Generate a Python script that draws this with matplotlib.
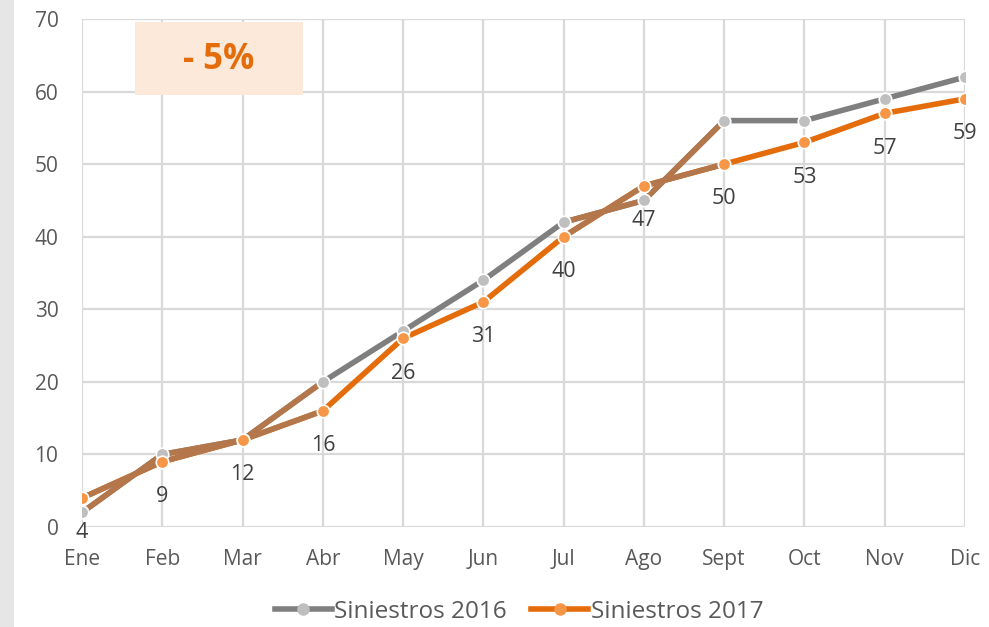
import matplotlib.pyplot as plt
from matplotlib.patches import Rectangle
from matplotlib.lines import Line2D

# data
months = ['Ene', 'Feb', 'Mar', 'Abr', 'May', 'Jun', 'Jul', 'Ago', 'Sept', 'Oct', 'Nov', 'Dic']
s2016 = [2, 10, 12, 20, 27, 34, 42, 45, 56, 56, 59, 62]
s2017 = [4, 9, 12, 16, 26, 31, 40, 47, 50, 53, 57, 59]
# segments (i -> i+1) that show up brownish where the two lines overlap
brown_segs = [0, 1, 2, 6, 7]

plt.rcParams['font.family'] = ['Open Sans', 'DejaVu Sans']

gray_line = '#7f7f7f'
gray_mark = '#bfbfbf'
orange_line = '#e46c0a'
orange_mark = '#f79646'
brown = '#b3774b'

fig = plt.figure(figsize=(9.89, 6.27), dpi=100)
fig.patches.append(Rectangle((0, 0), 14 / 989, 1, transform=fig.transFigure,
                             facecolor='#e6e6e6', edgecolor='none'))
ax = fig.add_axes([82 / 989, 1 - 527 / 627, (965 - 82) / 989, (527 - 19) / 627])

x = list(range(len(months)))
lw = 4
ax.plot(x, s2016, color=gray_line, lw=lw, zorder=3, solid_capstyle='butt')
ax.plot(x, s2017, color=orange_line, lw=lw, zorder=4, solid_capstyle='butt')
for i in brown_segs:
    ax.plot(x[i:i + 2], s2016[i:i + 2], color=brown, lw=lw, zorder=4.5, solid_capstyle='butt')
    ax.plot(x[i:i + 2], s2017[i:i + 2], color=brown, lw=lw, zorder=4.5, solid_capstyle='butt')
ax.plot(x, s2016, ls='none', marker='o', ms=9, mfc=gray_mark, mec='white', mew=1.2, zorder=5)
ax.plot(x, s2017, ls='none', marker='o', ms=9, mfc=orange_mark, mec='white', mew=1.2, zorder=6)

for xi, v in zip(x, s2017):
    ax.annotate(str(v), (xi, v), xytext=(0, -25), textcoords='offset points',
                ha='center', va='center', fontsize=15.5, color='#404040', zorder=7)

ax.set_xlim(0, 11)
ax.set_ylim(0, 70)
ax.set_yticks(range(0, 71, 10))
ax.set_xticks(x)
ax.set_xticklabels(months)
ax.tick_params(length=0, labelsize=15, labelcolor='#595959')
ax.tick_params(axis='x', pad=16)
ax.tick_params(axis='y', pad=17)
ax.grid(True, color='#d9d9d9', lw=1.6)
ax.set_axisbelow(True)
for s in ax.spines.values():
    s.set_visible(False)
ax.patch.set_alpha(0)

# "-5%" box
ax.add_patch(Rectangle((135 / 989, 1 - 95 / 627), (303 - 135) / 989, (95 - 22) / 627,
                       transform=fig.transFigure, facecolor='#fde9d9', edgecolor='none',
                       zorder=8))
fig.text(219 / 989, 1 - 60 / 627, '- 5%', ha='center', va='center', fontsize=25,
         fontweight='bold', color=orange_line, zorder=9)

handles = [
    Line2D([], [], color=gray_line, lw=lw, marker='o', ms=8, mfc=gray_mark, mec=gray_mark),
    Line2D([], [], color=orange_line, lw=lw, marker='o', ms=8, mfc=orange_mark, mec=orange_mark),
]
fig.legend(handles, ['Siniestros 2016', 'Siniestros 2017'], loc='center',
           bbox_to_anchor=(0.525, 1 - 612 / 627), ncol=2, frameon=False,
           fontsize=17.5, labelcolor='#595959', handlelength=2.35, handletextpad=0.1,
           columnspacing=1.0)

fig.savefig('out.png', dpi=100)
